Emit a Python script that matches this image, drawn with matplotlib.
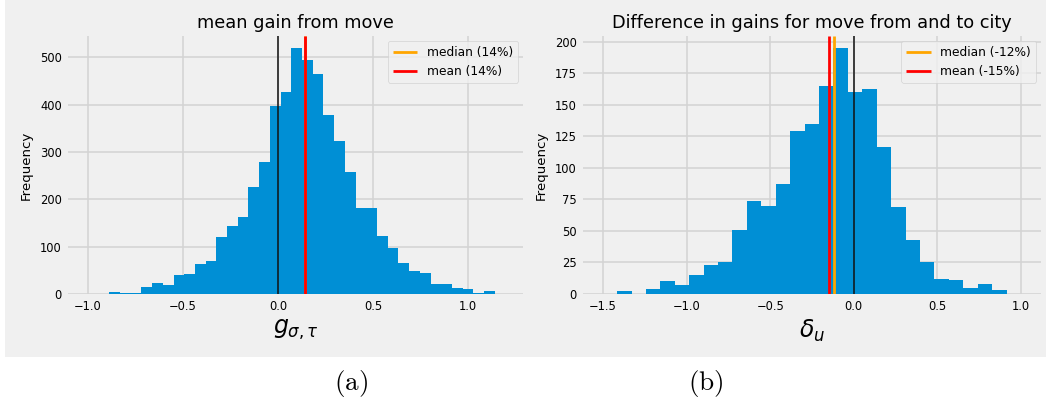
import numpy as np
import matplotlib
matplotlib.use("Agg")
import matplotlib.pyplot as plt
from matplotlib.patches import Rectangle

plt.style.use("fivethirtyeight")

# ---- data -------------------------------------------------------------
# (a) mean gain from move
gain_lo, gain_hi = -0.888, 1.142
gain_counts = [4, 2, 2, 15, 23, 19, 40, 42, 63, 69, 120, 143, 162, 227,
               279, 397, 426, 519, 494, 464, 378, 324, 258, 181, 181, 122,
               97, 65, 48, 44, 21, 21, 13, 10, 2, 6]
gain_median = 0.14
gain_mean = 0.14

# (b) difference in gains for move from and to city
diff_lo, diff_hi = -1.416, 0.914
diff_counts = [2, 0, 4, 10, 7, 15, 23, 25, 51, 74, 70, 87, 129, 135, 165,
               195, 160, 163, 117, 69, 43, 25, 12, 11, 5, 8, 3]
diff_median = -0.118
diff_mean = -0.148

panels = [
    dict(lo=gain_lo, hi=gain_hi, counts=gain_counts, med=gain_median,
         mean=gain_mean, title="mean gain from move",
         xlabel=r"$g_{\sigma,\tau}$", xlim=(-1.105, 1.29),
         xticks=[-1.0, -0.5, 0.0, 0.5, 1.0], yticks=[0, 100, 200, 300, 400, 500],
         rect=[68, 36, 523, 294], caption="(a)", cap_x=351),
    dict(lo=diff_lo, hi=diff_hi, counts=diff_counts, med=diff_median,
         mean=diff_mean, title="Difference in gains for move from and to city",
         xlabel=r"$\delta_u$", xlim=(-1.62, 1.12),
         xticks=[-1.5, -1.0, -0.5, 0.0, 0.5, 1.0],
         yticks=[0, 25, 50, 75, 100, 125, 150, 175, 200],
         rect=[583, 36, 1041, 294], caption="(b)", cap_x=706),
]

W, H = 1046, 400
fig = plt.figure(figsize=(W / 100, H / 100), dpi=100, facecolor="white")

# grey panel background behind both plots
fig.patches.append(Rectangle((5 / W, 1 - 356.5 / H), (W - 5) / W, 356.5 / H,
                             transform=fig.transFigure, facecolor="#f0f0f0",
                             edgecolor="none", zorder=-10))

for p in panels:
    x0, y0, x1, y1 = p["rect"]
    ax = fig.add_axes([x0 / W, 1 - y1 / H, (x1 - x0) / W, (y1 - y0) / H])
    ax.set_zorder(1)
    ax.set_facecolor("#f0f0f0")
    n = len(p["counts"])
    edges = np.linspace(p["lo"], p["hi"], n + 1)
    ax.hist(edges[:-1], bins=edges, weights=p["counts"], color="#008fd5",
            linewidth=0, zorder=2)
    ax.axvline(0, color="#111111", lw=1.1, zorder=3)
    ax.axvline(p["med"], color="orange", lw=2.0, zorder=3,
               label=f"median ({p['med']:.0%})")
    ax.axvline(p["mean"], color="red", lw=2.0, zorder=3,
               label=f"mean ({p['mean']:.0%})")
    ax.set_xlim(*p["xlim"])
    ax.set_ylim(0, max(p["counts"]) * 1.05)
    ax.set_xticks(p["xticks"])
    ax.set_yticks(p["yticks"])
    ax.tick_params(labelsize=8.3, pad=4.5)
    ax.grid(True, color="#d3d3d3", lw=1.1)
    ax.set_axisbelow(True)
    for s in ax.spines.values():
        s.set_visible(False)
    ax.set_title(p["title"], fontsize=12.8, pad=6)
    ax.set_ylabel("Frequency", fontsize=9.6, labelpad=5)
    ax.set_xlabel(p["xlabel"], fontsize=17, labelpad=3)
    leg = ax.legend(loc="upper right", fontsize=8.8, handlelength=2.0,
                    borderaxespad=0.4, framealpha=0.8)
    for line in leg.get_lines():
        line.set_linewidth(2.0)
    fig.text(p["cap_x"] / W, 1 - 383.5 / H, r"$\mathrm{" + p["caption"] + "}$",
             ha="center", va="center", fontsize=19.5,
             math_fontfamily="cm")

fig.savefig("out.png", dpi=100, facecolor="white")
